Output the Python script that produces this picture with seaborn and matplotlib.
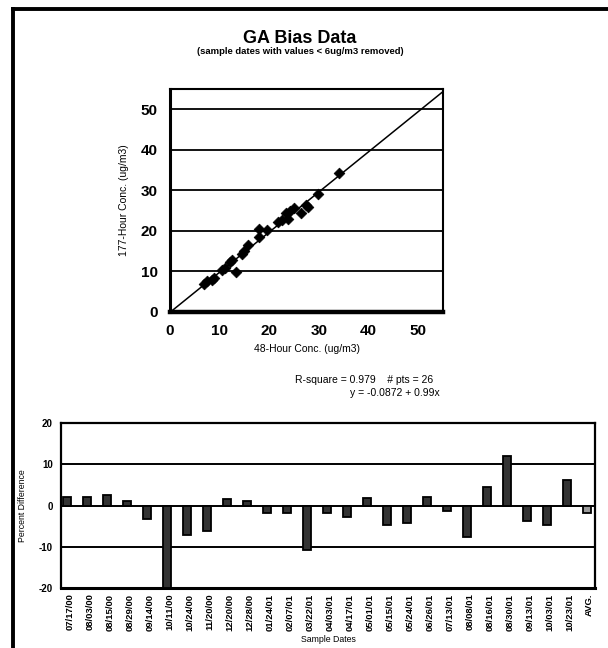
import numpy as np
import pandas as pd
import matplotlib
matplotlib.use("Agg")
import matplotlib.pyplot as plt
from matplotlib.lines import Line2D
import seaborn as sns

# 48-hour vs 177-hour concentrations (ug/m3)
conc_48h = [6.9, 7.4, 8.4, 8.8, 10.5, 11.0, 12.0, 12.5, 13.3, 14.6, 15.0, 15.8, 17.9,
            18.0, 19.5, 21.8, 22.6, 23.3, 23.8, 24.2, 25.0, 26.4, 27.3, 27.8, 29.8, 34.1]
conc_177h = [6.9, 7.6, 7.8, 8.3, 10.4, 10.8, 12.4, 12.9, 9.9, 14.4, 15.0, 16.6, 18.6,
             20.4, 20.3, 22.2, 22.8, 24.5, 23.0, 25.0, 25.7, 24.4, 26.4, 26.0, 29.2, 34.2]

# linear fit reported on the chart
fit_intercept = -0.0872
fit_slope = 0.99
fit_x = [0, 55]

# percent difference per sample date
sample_dates = ["07/17/00", "08/03/00", "08/15/00", "08/29/00", "09/14/00", "10/11/00",
                "10/24/00", "11/20/00", "12/20/00", "12/28/00", "01/24/01", "02/07/01",
                "03/22/01", "04/03/01", "04/17/01", "05/01/01", "05/15/01", "05/24/01",
                "06/26/01", "07/13/01", "08/08/01", "08/16/01", "08/30/01", "09/13/01",
                "10/03/01", "10/23/01", "AVG."]
pct_diff = [2.0, 2.0, 2.5, 1.1, -3.2, -20.0, -7.1, -6.2, 1.6, 1.1, -1.8, -1.8,
            -10.7, -1.8, -2.8, 1.7, -4.8, -4.3, 2.1, -1.3, -7.7, 4.6, 12.0, -3.8,
            -4.8, 6.1, -1.8]

scatter_ticks = [0, 10, 20, 30, 40, 50]
bar_ticks = [-20, -10, 0, 10, 20]

sns.set_style("white")
plt.rcParams["font.family"] = ["Liberation Sans", "DejaVu Sans"]
plt.rcParams["axes.unicode_minus"] = False

W, H = 608, 648
fig = plt.figure(figsize=(W / 100, H / 100), dpi=100)


def px_axes(left, top, right, bottom):
    return fig.add_axes([left / W, 1 - bottom / H, (right - left) / W, (bottom - top) / H])


# page frame lines (top and left)
fig.add_artist(Line2D([11 / W, 1.0], [1 - 9.2 / H, 1 - 9.2 / H], color="black", lw=2.8,
                      transform=fig.transFigure, solid_capstyle="butt"))
fig.add_artist(Line2D([13 / W, 13 / W], [1 - 7.4 / H, 0.0], color="black", lw=2.8,
                      transform=fig.transFigure, solid_capstyle="butt"))

# titles
fig.text(300 / W, 1 - 38.5 / H, "GA Bias Data", ha="center", va="center",
         fontsize=13, fontweight="bold", color="black")
fig.text(300 / W, 1 - 51 / H, "(sample dates with values < 6ug/m3 removed)",
         ha="center", va="center", fontsize=6.8, fontweight="bold", color="black")

# ---------- scatter with fit line ----------
ax1 = px_axes(170, 89, 443, 312)
scatter_df = pd.DataFrame({"x": conc_48h, "y": conc_177h})
fit_df = pd.DataFrame({"x": fit_x,
                       "y": [fit_intercept + fit_slope * v for v in fit_x]})
for t in scatter_ticks[1:]:
    ax1.axhline(t, color="black", lw=1.3, zorder=1)
sns.lineplot(data=fit_df, x="x", y="y", ax=ax1, color="black", lw=1.1, zorder=2)
sns.scatterplot(data=scatter_df, x="x", y="y", ax=ax1, marker="D", s=30,
                color="black", edgecolor="black", linewidth=0.5, zorder=3)
ax1.set_xlim(0, 55)
ax1.set_ylim(0, 55)
ax1.set_xticks(scatter_ticks)
ax1.set_yticks(scatter_ticks)
ax1.tick_params(length=0, labelsize=11, pad=9, labelcolor="black")
for lab in ax1.get_xticklabels() + ax1.get_yticklabels():
    lab.set_fontweight("bold")
ax1.set_xlabel("48-Hour Conc. (ug/m3)", fontsize=7.5, labelpad=4, color="black")
ax1.set_ylabel("177-Hour Conc. (ug/m3)", fontsize=7.5, labelpad=8, color="black")
for side, lw in {"left": 2.2, "bottom": 3.2, "top": 1.5, "right": 1.5}.items():
    ax1.spines[side].set_visible(True)
    ax1.spines[side].set_color("black")
    ax1.spines[side].set_linewidth(lw)

fig.text(433 / W, 1 - 380 / H, "R-square = 0.979    # pts = 26", ha="right",
         va="center", fontsize=7.5, color="black")
fig.text(440 / W, 1 - 393 / H,
         f"y = {fit_intercept} + {fit_slope}x", ha="right", va="center", fontsize=7.5,
         color="black")

# ---------- percent difference bars ----------
ax2 = px_axes(61, 423, 595, 588)
bar_df = pd.DataFrame({"date": sample_dates, "pct": pct_diff})
bar_colors = ["#333333"] * (len(sample_dates) - 1) + ["#9a9a9a"]
sns.barplot(data=bar_df, x="date", y="pct", hue="date", palette=bar_colors,
            legend=False, ax=ax2, width=0.4, edgecolor="black", linewidth=1.3,
            zorder=3)
for t in [-10, 0, 10]:
    ax2.axhline(t, color="black", lw=1.4, zorder=1)
n = len(sample_dates)
ax2.set_xlim(-0.29, n - 1 + 0.415)
ax2.set_ylim(-20, 20)
ax2.set_yticks(bar_ticks)
ax2.set_xticks(np.arange(n) + 0.15)
ax2.set_xticklabels(sample_dates, rotation=90, fontsize=6.8, fontweight="bold")
ax2.tick_params(length=0, pad=4, labelcolor="black")
ax2.tick_params(axis="y", labelsize=7, pad=6)
for lab in ax2.get_yticklabels():
    lab.set_fontweight("bold")
ax2.set_xlabel("Sample Dates", fontsize=6.3, labelpad=3, color="black")
ax2.set_ylabel("Percent Difference", fontsize=6.3, labelpad=8, color="black")
for side in ["left", "right", "top", "bottom"]:
    ax2.spines[side].set_visible(True)
    ax2.spines[side].set_color("black")
    ax2.spines[side].set_linewidth(1.6)
ax2.spines["bottom"].set_linewidth(2.2)

fig.savefig("out.png", dpi=100, facecolor="white")
